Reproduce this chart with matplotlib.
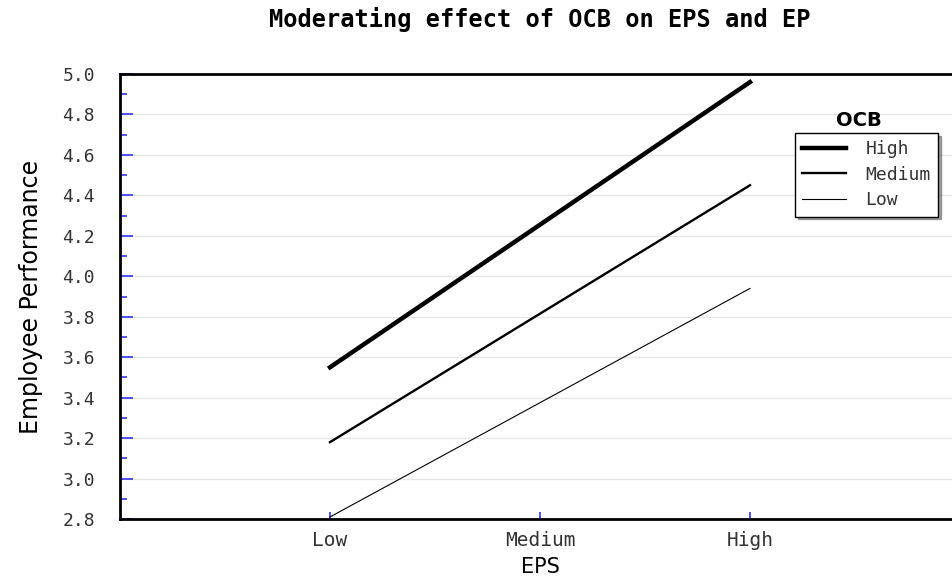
import numpy as np
import matplotlib.pyplot as plt
from matplotlib.ticker import MultipleLocator

# data
eps_levels = ['Low', 'Medium', 'High']
ocb_high = [3.55, 4.255, 4.96]
ocb_medium = [3.18, 3.815, 4.45]
ocb_low = [2.81, 3.375, 3.94]

fig = plt.figure(figsize=(9.52, 5.81), dpi=100)
W, H = 952, 581
ax = fig.add_axes([120 / W, 1 - 519 / H, (960 - 120) / W, (519 - 74) / H])

x = np.arange(1, len(eps_levels) + 1)
ax.plot(x, ocb_high, color='black', lw=3.2, label='High')
ax.plot(x, ocb_medium, color='black', lw=1.7, label='Medium')
ax.plot(x, ocb_low, color='black', lw=0.8, label='Low')

ax.set_xlim(0, 4)
ax.set_ylim(2.8, 5.0)
ax.set_xticks(x)
ax.set_xticklabels(eps_levels, family='DejaVu Sans Mono', fontsize=14, color='#333333')
ax.yaxis.set_major_locator(MultipleLocator(0.2))
ax.yaxis.set_minor_locator(MultipleLocator(0.1))
ax.set_yticklabels([f'{v:.1f}' for v in ax.get_yticks()], family='DejaVu Sans Mono',
                   fontsize=13, color='#333333')
ax.tick_params(axis='both', which='both', direction='in', color='#3333ff', width=1.2)
ax.tick_params(axis='y', which='major', length=9, pad=18)
ax.tick_params(axis='y', which='minor', length=5)
ax.tick_params(axis='x', length=5, pad=9)
ax.grid(axis='y', color='#e6e6e6', lw=1)
ax.set_axisbelow(True)

for s in ['left', 'bottom', 'top']:
    ax.spines[s].set_linewidth(2)
ax.spines['right'].set_visible(False)

ax.set_xlabel('EPS', fontsize=15, family='DejaVu Sans', labelpad=5)
ax.set_ylabel('Employee Performance', fontsize=17, family='DejaVu Sans', labelpad=14)

fig.text(540 / W, 1 - 20 / H, 'Moderating effect of OCB on EPS and EP',
         ha='center', va='center', family='DejaVu Sans Mono', fontweight='bold', fontsize=17)

leg = ax.legend(loc='upper left', bbox_to_anchor=(795 / W, 1 - 133 / H),
                bbox_transform=fig.transFigure, frameon=True, fancybox=False, shadow=True,
                prop={'family': 'DejaVu Sans Mono', 'size': 13}, handlelength=2.4,
                borderpad=0.4, labelspacing=0.42, handletextpad=1.1, borderaxespad=0,
                edgecolor='black')
leg.get_frame().set_linewidth(1)
for t in leg.get_texts():
    t.set_color('#333333')
fig.text(859 / W, 1 - 120 / H, 'OCB', ha='center', va='center', fontsize=14,
         fontweight='bold', family='DejaVu Sans')

fig.savefig('out.png', dpi=100)
